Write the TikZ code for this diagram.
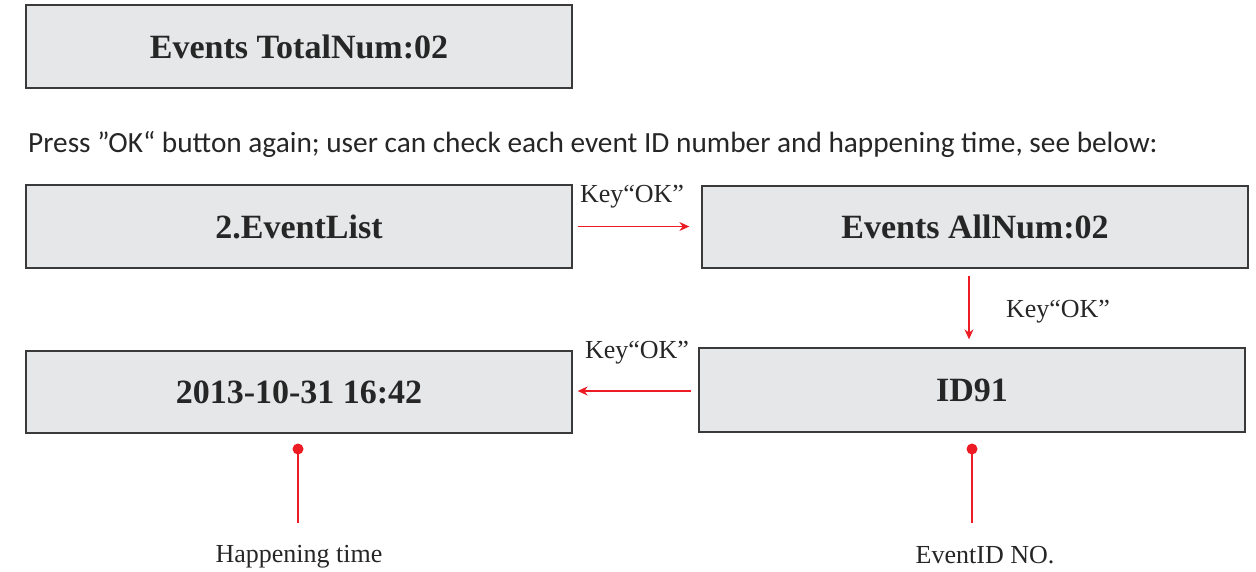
\documentclass[tikz,border=0pt]{standalone}
\usepackage{fontspec}
\setmainfont{Liberation Serif}
\newfontfamily\calfont{Carlito}
\usetikzlibrary{arrows.meta}
\definecolor{boxfill}{HTML}{E6E7E8}
\definecolor{boxline}{HTML}{3A3A3A}
\definecolor{myred}{HTML}{ED1C24}
\tikzset{
  screen/.style={draw=boxline, line width=1.3pt, fill=boxfill, minimum width=546pt, inner sep=0pt,
    font=\fontsize{34}{40}\selectfont\bfseries, text=black!85},
  keylabel/.style={font=\fontsize{26}{30}\selectfont, text=black!85, inner sep=0pt, anchor=base},
  redarrow/.style={draw=myred, line width=1.2pt, -{Stealth[length=10pt,width=9pt]}},
  redline/.style={draw=myred, line width=1.2pt},
  note/.style={font=\fontsize{26}{30}\selectfont, text=black!85, inner sep=0pt, anchor=base},
}
\begin{document}
\begin{tikzpicture}[x=1pt,y=-1pt]
\useasboundingbox (0,0) rectangle (1256,572);
\node[screen, minimum height=83pt] (total) at (299,46.5) {Events TotalNum:02};
\node[anchor=base west, inner sep=0pt, font=\calfont\fontsize{29.3}{34}\selectfont, text=black!85] (intro) at (28,153)
  {Press ”OK“ button again; user can check each event ID number and happening time, see below:};
\node[screen, minimum height=83pt] (list) at (299,226.5) {2.EventList};
\node[screen, minimum height=82pt] (allnum) at (975,227) {Events AllNum:02};
\node[screen, minimum height=82pt] (time) at (299,392) {2013-10-31 16:42};
\node[screen, minimum height=84pt] (id) at (972,390) {ID91};
\draw[redarrow, shorten <=5pt, shorten >=12pt] (list.east) -- (list.east -| allnum.west);
\node[keylabel] (k1) at (632,203) {Key“OK”};
\draw[redarrow, shorten <=7pt, shorten >=8pt] ([xshift=-6pt]allnum.south) -- ([xshift=-6pt]allnum.south |- id.north);
\node[keylabel] (k2) at (1058,317) {Key“OK”};
\draw[redarrow, shorten <=7pt, shorten >=5pt] (id.west |- 0,391) -- (time.east |- 0,391);
\node[keylabel] (k3) at (637,358) {Key“OK”};
\coordinate (d1) at (298,449);
\coordinate (e1) at (298,523);
\fill[myred] (d1) circle (5.5pt);
\draw[redline] (d1) -- (e1);
\node[note] (ht) at (299,562) {Happening time};
\coordinate (d2) at (972,449);
\coordinate (e2) at (972,523);
\fill[myred] (d2) circle (5.5pt);
\draw[redline] (d2) -- (e2);
\node[note] (eid) at (985,563) {EventID NO.};
\end{tikzpicture}
\end{document}
